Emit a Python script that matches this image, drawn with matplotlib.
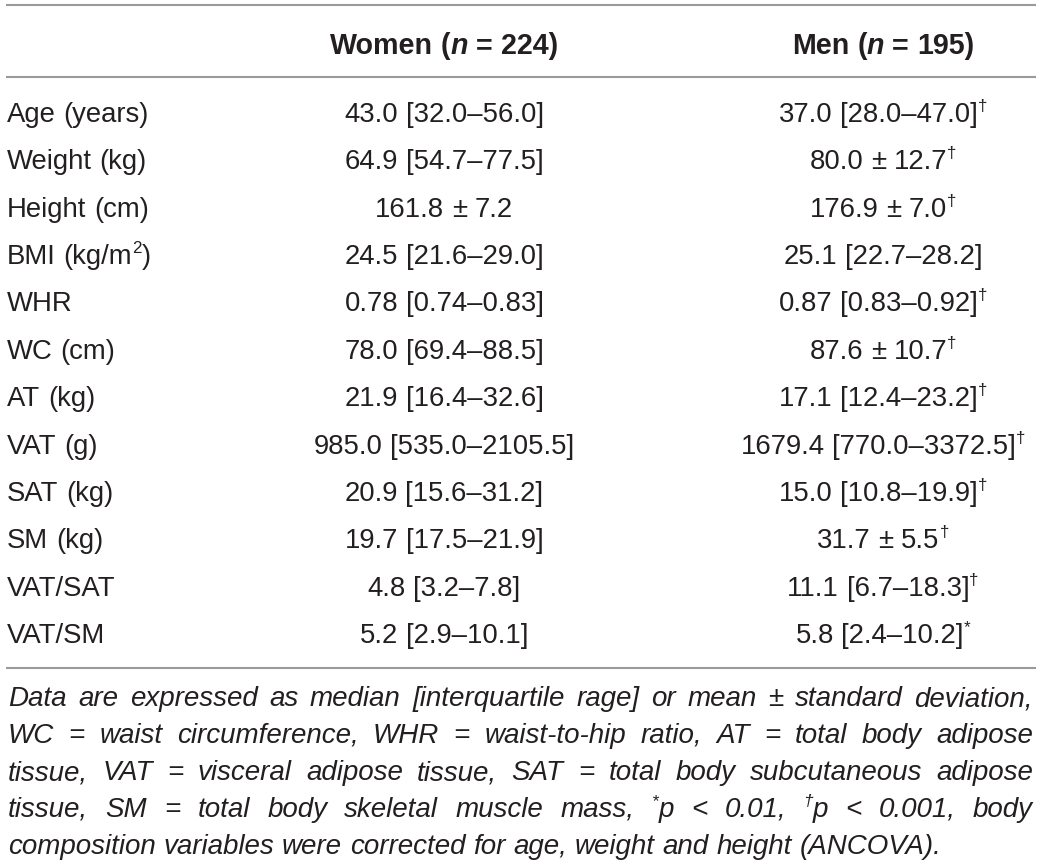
import matplotlib.pyplot as plt

# table content
labels = ["Age (years)", "Weight (kg)", "Height (cm)", "BMI (kg/m^2)", "WHR",
          "WC (cm)", "AT (kg)", "VAT (g)", "SAT (kg)", "SM (kg)", "VAT/SAT", "VAT/SM"]
women = ["43.0 [32.0–56.0]", "64.9 [54.7–77.5]", "161.8 ± 7.2", "24.5 [21.6–29.0]",
         "0.78 [0.74–0.83]", "78.0 [69.4–88.5]", "21.9 [16.4–32.6]",
         "985.0 [535.0–2105.5]", "20.9 [15.6–31.2]", "19.7 [17.5–21.9]",
         "4.8 [3.2–7.8]", "5.2 [2.9–10.1]"]
men = ["37.0 [28.0–47.0]", "80.0 ± 12.7", "176.9 ± 7.0", "25.1 [22.7–28.2]",
       "0.87 [0.83–0.92]", "87.6 ± 10.7", "17.1 [12.4–23.2]",
       "1679.4 [770.0–3372.5]", "15.0 [10.8–19.9]", "31.7 ± 5.5",
       "11.1 [6.7–18.3]", "5.8 [2.4–10.2]"]
men_sig = ["†", "†", "†", "", "†", "†", "†", "†", "†", "†", "†", "*"]
headers = ["Women (_n_ = 224)", "Men (_n_ = 195)"]

# footnote, broken into lines as in the source ('^' = superscript next char)
footnote = [
    "Data are expressed as median [interquartile rage] or mean ± standard deviation,",
    "WC = waist circumference, WHR = waist-to-hip ratio, AT = total body adipose",
    "tissue, VAT = visceral adipose tissue, SAT = total body subcutaneous adipose",
    "tissue, SM = total body skeletal muscle mass, ^*p < 0.01, ^†p < 0.001, body",
    "composition variables were corrected for age, weight and height (ANCOVA).",
]

FAMILY = "Liberation Sans"
INK = "#231f20"
RULE = "#9a9a9a"

fig = plt.figure(figsize=(10.41, 8.66), dpi=100)
ax = fig.add_axes([0, 0, 1, 1])
ax.set_xlim(0, 1041)
ax.set_ylim(866, 0)
ax.axis("off")
renderer = fig.canvas.get_renderer()


def props(kind, size):
    w = "bold" if "b" in kind else "normal"
    st = "italic" if "i" in kind else "normal"
    s = size * 0.62 if "sup" in kind else size
    return s, w, st


def seg_width(text, kind, size):
    s, w, st = props(kind, size)
    t = ax.text(0, 0, text, fontsize=s, fontweight=w, fontstyle=st, family=FAMILY)
    width = t.get_window_extent(renderer).width
    t.remove()
    return width


def parse(text, base):
    words = []
    for raw in text.split(" "):
        segs = []
        ital = False
        sup = False
        for ch in raw:
            if ch == "_":
                ital = not ital
                continue
            if ch == "^":
                sup = True
                continue
            kind = base
            if ital:
                kind = {"n": "i", "b": "bi", "i": "n"}[base]
            if sup:
                kind = kind + "sup"
                sup = False
            if segs and segs[-1][1] == kind:
                segs[-1][0] += ch
            else:
                segs.append([ch, kind])
        words.append(segs)
    return words


def draw_line(text, x, y, size, base="n", align="left", right=None):
    words = parse(text, base)
    widths = [sum(seg_width(s, k, size) for s, k in w) for w in words]
    space = seg_width("a a", base, size) - seg_width("aa", base, size)
    total = sum(widths) + space * (len(words) - 1)
    gap = space
    if align == "center":
        x = x - total / 2
    elif align == "justify":
        gap = (right - x - sum(widths)) / (len(words) - 1)
    px = size * 100 / 72
    cx = x
    for w, ww in zip(words, widths):
        for s, k in w:
            fs, fw, fst = props(k, size)
            yy = y - 0.40 * px if "sup" in k else y
            ax.text(cx, yy, s, fontsize=fs, fontweight=fw, fontstyle=fst,
                    family=FAMILY, color=INK, ha="left", va="baseline")
            cx += seg_width(s, k, size)
        cx += gap


# rules
for yl in [5, 77, 668]:
    ax.plot([6, 1036], [yl, yl], color=RULE, lw=1.5, solid_capstyle="butt")

# header
col_x = [444, 883]
for h, cx in zip(headers, col_x):
    draw_line(h, cx, 54, 20.6, base="b", align="center")

# body rows
body_size = 19.8
for i, (lab, w, m, sig) in enumerate(zip(labels, women, men, men_sig)):
    yb = 122 + 47.36 * i
    draw_line(lab, 7, yb, body_size)
    draw_line(w, col_x[0], yb, body_size, align="center")
    draw_line(m + ("^" + sig if sig else ""), col_x[1], yb, body_size, align="center")

# footnote, justified except last line
for j, line in enumerate(footnote):
    yb = 706 + 37 * j
    if j < len(footnote) - 1:
        draw_line(line, 8, yb, 20.0, base="i", align="justify", right=1033)
    else:
        draw_line(line, 8, yb, 20.0, base="i")

fig.savefig("out.png", dpi=100)
